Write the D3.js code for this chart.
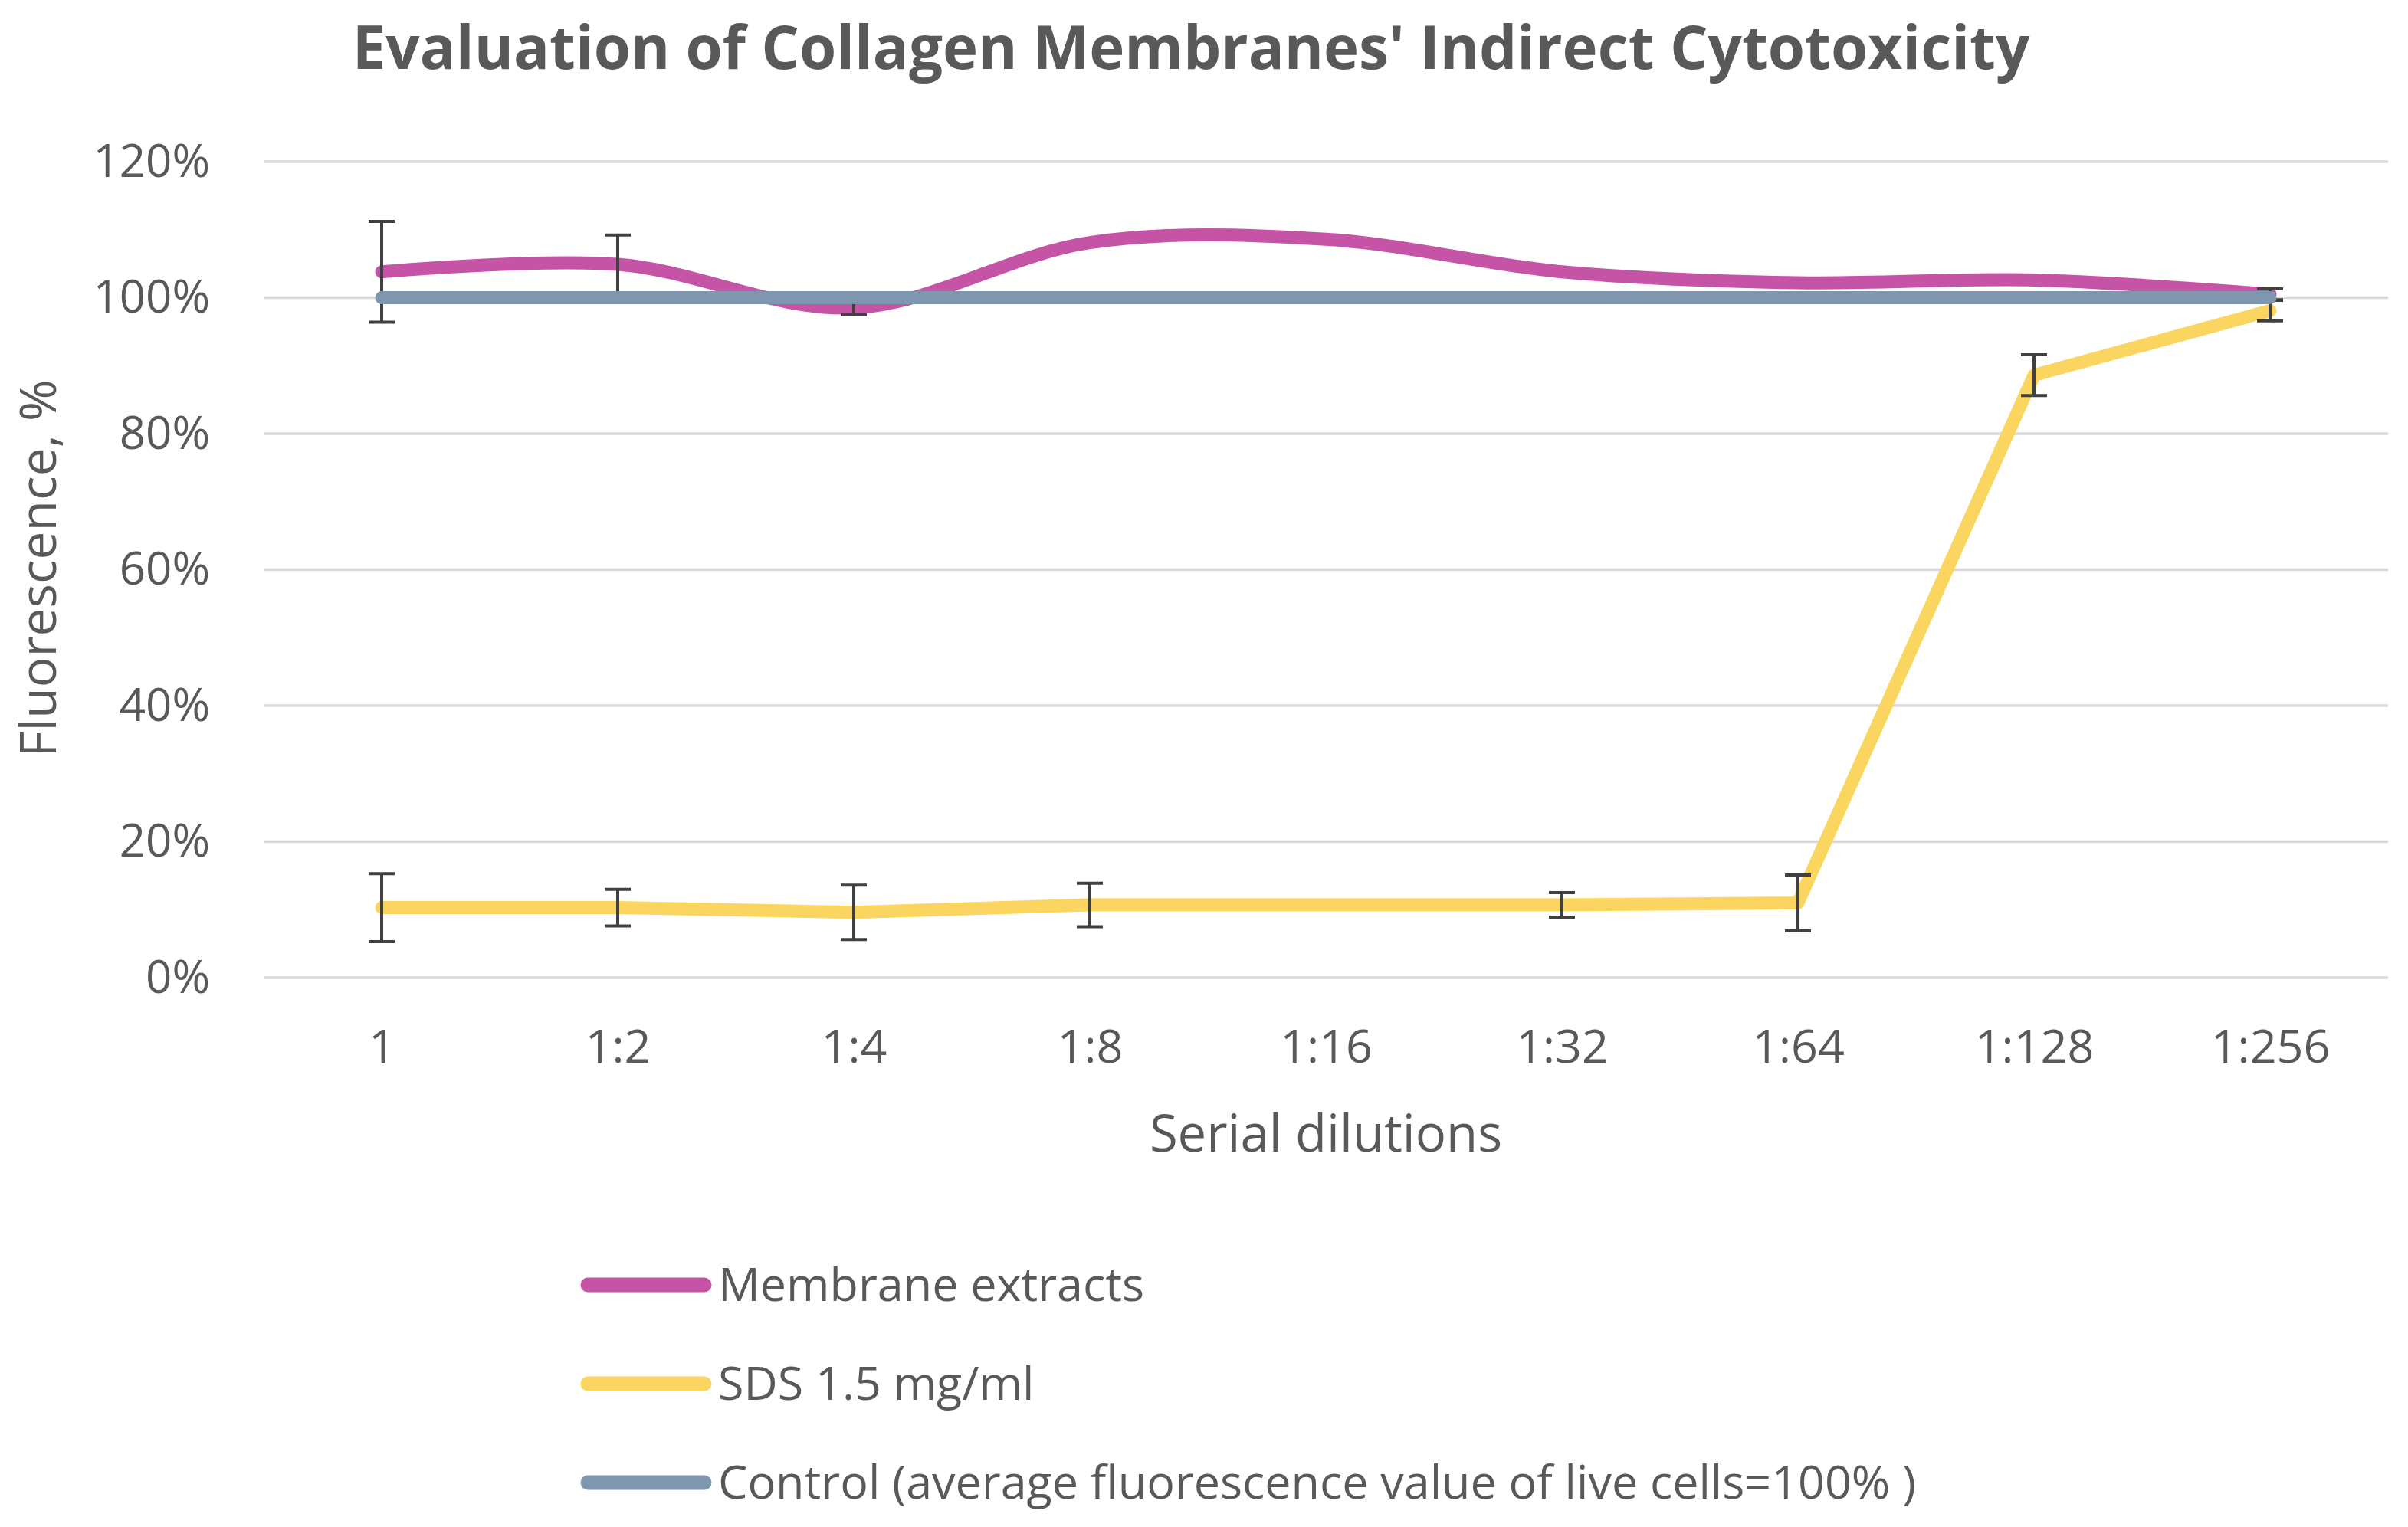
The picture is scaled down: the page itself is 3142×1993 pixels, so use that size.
<!DOCTYPE html>
<html>
	<head>
		<meta charset='utf-8'>
		<title>Evaluation of Collagen Membranes' Indirect Cytotoxicity</title>
		<script src="https://d3js.org/d3.v7.min.js"></script>
		<style>
			body { margin: 0; background: #fff; }
			text { font-family: "Open Sans", "Noto Sans", sans-serif; fill: #595959; }
			.grid line { stroke: #d9d9d9; stroke-width: 3.5px; }
		</style>
	</head>
	<body>
		<div id="chart"></div>
		<script>
			// donnees
			var dilutions = ["1", "1:2", "1:4", "1:8", "1:16", "1:32", "1:64", "1:128", "1:256"];
			var membrane = [103.8, 104.9, 98.5, 108.1, 108.6, 103.8, 102.2, 102.6, 100.5];
			var membraneErr = [7.4, 4.3, 1.0, null, null, null, null, null, 0.8];
			var sds = [10.3, 10.3, 9.6, 10.7, 10.7, 10.7, 11.0, 88.6, 98.1];
			var sdsErr = [5.0, 2.7, 4.0, 3.2, null, 1.8, 4.1, 3.0, 1.5];
			var control = [100, 100, 100, 100, 100, 100, 100, 100, 100];
			var yTicks = [0, 20, 40, 60, 80, 100, 120];

			var seriesNames = ["Membrane extracts", "SDS 1.5 mg/ml", "Control (average fluorescence value of live cells=100% )"];
			var seriesColors = ["#c654a6", "#fad660", "#7f96b1"];

			var width = 3142;
			var height = 1993;
			var margin = {left: 344, right: 26, top: 211, bottom: 717};

			var svg = d3.select("#chart").append("svg")
				.attr("width", width)
				.attr("height", height);

			svg.append("rect").attr("width", width).attr("height", height).attr("fill", "#fff");

			var x = d3.scalePoint()
				.domain(dilutions)
				.range([margin.left, width - margin.right])
				.padding(0.5);

			var y = d3.scaleLinear()
				.domain([0, 120])
				.range([height - margin.bottom, margin.top]);

			// grille horizontale
			svg.append("g").attr("class", "grid")
				.selectAll("line").data(yTicks).enter().append("line")
				.attr("x1", margin.left)
				.attr("x2", width - margin.right)
				.attr("y1", function(d) { return y(d); })
				.attr("y2", function(d) { return y(d); });

			// axe y (texte seulement)
			var yAxis = svg.append("g")
				.attr("transform", "translate(" + (margin.left - 70) + ",0)")
				.call(d3.axisLeft(y).tickValues(yTicks).tickSize(0).tickPadding(0)
					.tickFormat(function(d) { return d + "%"; }));
			yAxis.select(".domain").remove();
			yAxis.selectAll("text")
				.style("font-size", "60px")
				.attr("fill", "#595959")
				.attr("font-family", null);

			// axe x
			var xAxis = svg.append("g")
				.attr("transform", "translate(0," + y(0) + ")")
				.call(d3.axisBottom(x).tickSize(0).tickPadding(0));
			xAxis.select(".domain").remove();
			xAxis.selectAll("text")
				.attr("dy", null)
				.attr("y", 111)
				.style("font-size", "61px")
				.attr("fill", "#595959")
				.attr("font-family", null);

			var line = d3.line()
				.x(function(d, i) { return x(dilutions[i]); })
				.y(function(d) { return y(d); });

			function drawSeries(values, errors, color, curve) {
				svg.append("path")
					.datum(values)
					.attr("fill", "none")
					.attr("stroke", color)
					.attr("stroke-width", 17)
					.attr("stroke-linecap", "round")
					.attr("stroke-linejoin", "round")
					.attr("d", line.curve(curve));

				if (!errors) return;
				var bars = svg.append("g")
					.attr("stroke", "#404040")
					.attr("stroke-width", 4);
				errors.forEach(function(e, i) {
					if (e == null) return;
					var cx = x(dilutions[i]);
					var top = y(values[i] + e), bot = y(values[i] - e);
					bars.append("line").attr("x1", cx).attr("x2", cx).attr("y1", top).attr("y2", bot);
					bars.append("line").attr("x1", cx - 17).attr("x2", cx + 17).attr("y1", top).attr("y2", top);
					bars.append("line").attr("x1", cx - 17).attr("x2", cx + 17).attr("y1", bot).attr("y2", bot);
				});
			}

			drawSeries(membrane, membraneErr, seriesColors[0], d3.curveCardinal.tension(0));
			drawSeries(sds, sdsErr, seriesColors[1], d3.curveLinear);
			drawSeries(control, null, seriesColors[2], d3.curveLinear);

			// titre
			svg.append("text")
				.attr("x", 1554)
				.attr("y", 90)
				.attr("text-anchor", "middle")
				.style("font-size", "78px")
				.style("font-weight", "bold")
				.text("Evaluation of Collagen Membranes' Indirect Cytotoxicity");

			// titres des axes
			svg.append("text")
				.attr("x", (margin.left + width - margin.right) / 2)
				.attr("y", 1503)
				.attr("text-anchor", "middle")
				.style("font-size", "67px")
				.text("Serial dilutions");

			svg.append("text")
				.attr("transform", "translate(73,742) rotate(-90)")
				.attr("text-anchor", "middle")
				.style("font-size", "66px")
				.text("Fluorescence, %");

			// legende
			var legend = svg.append("g").selectAll("g").data(seriesNames).enter().append("g")
				.attr("transform", function(d, i) { return "translate(758," + (1677 + i * 129) + ")"; });

			legend.append("line")
				.attr("x1", 9).attr("x2", 161)
				.attr("stroke", function(d, i) { return seriesColors[i]; })
				.attr("stroke-width", 19)
				.attr("stroke-linecap", "round");

			legend.append("text")
				.attr("x", 179)
				.attr("y", 21)
				.style("font-size", "61px")
				.text(function(d) { return d; });
		</script>
	</body>
</html>
